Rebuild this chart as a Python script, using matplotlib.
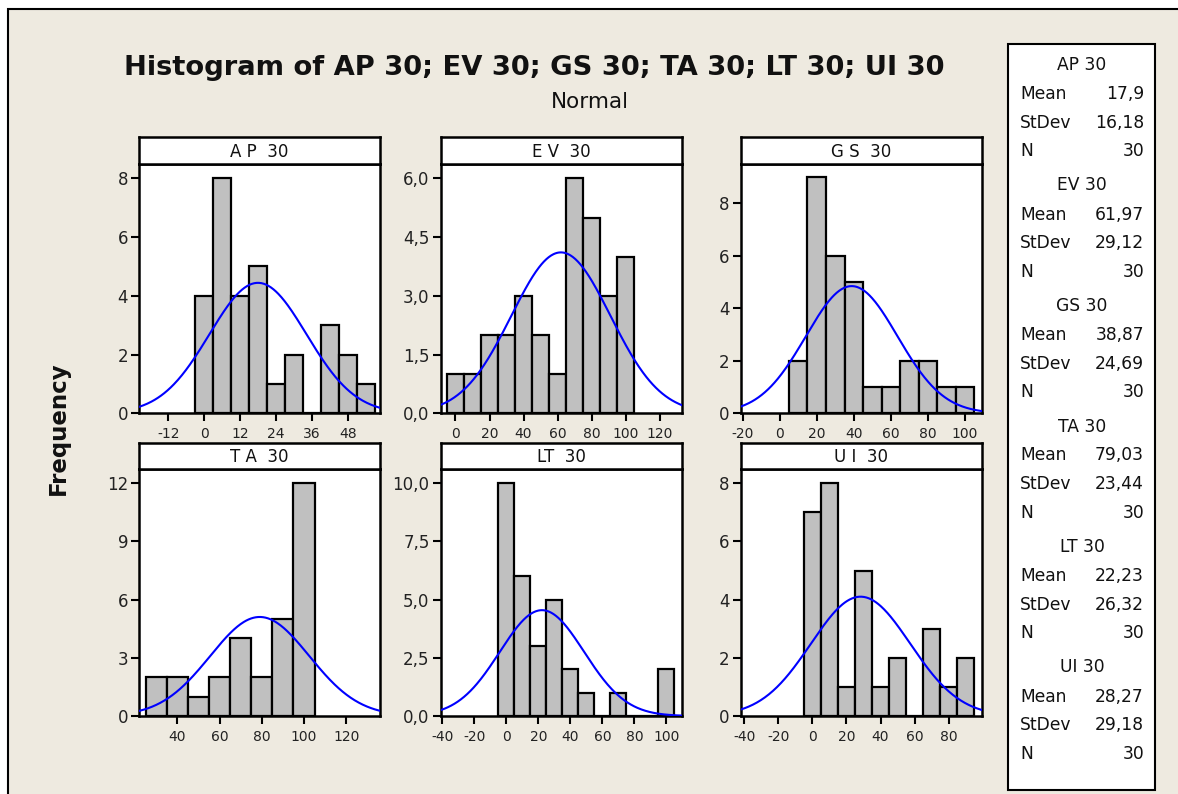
import numpy as np
import matplotlib
matplotlib.use("Agg")
import matplotlib.pyplot as plt
from matplotlib.patches import Rectangle

plt.rcParams['font.family'] = ['DejaVu Sans']
plt.rcParams['axes.unicode_minus'] = False

# ---------------- data ----------------
names = ["AP 30", "EV 30", "GS 30", "TA 30", "LT 30", "UI 30"]
strip_labels = ["A P  30", "E V  30", "G S  30", "T A  30", "LT  30", "U I  30"]
means = [17.9, 61.97, 38.87, 79.03, 22.23, 28.27]
stdevs = [16.18, 29.12, 24.69, 23.44, 26.32, 29.18]
n_obs = [30, 30, 30, 30, 30, 30]
mean_labels = ["17,9", "61,97", "38,87", "79,03", "22,23", "28,27"]
stdev_labels = ["16,18", "29,12", "24,69", "23,44", "26,32", "29,18"]

ap_centers = [0, 6, 12, 18, 24, 30, 36, 42, 48, 54]
ap_counts = [4, 8, 4, 5, 1, 2, 0, 3, 2, 1]
ev_centers = [0, 10, 20, 30, 40, 50, 60, 70, 80, 90, 100]
ev_counts = [1, 1, 2, 2, 3, 2, 1, 6, 5, 3, 4]
gs_centers = [10, 20, 30, 40, 50, 60, 70, 80, 90, 100]
gs_counts = [2, 9, 6, 5, 1, 1, 2, 2, 1, 1]
ta_centers = [30, 40, 50, 60, 70, 80, 90, 100]
ta_counts = [2, 2, 1, 2, 4, 2, 5, 12]
lt_centers = [0, 10, 20, 30, 40, 50, 60, 70, 80, 90, 100]
lt_counts = [10, 6, 3, 5, 2, 1, 0, 1, 0, 0, 2]
ui_centers = [0, 10, 20, 30, 40, 50, 60, 70, 80, 90]
ui_counts = [7, 8, 1, 5, 1, 2, 0, 3, 1, 2]

centers = [ap_centers, ev_centers, gs_centers, ta_centers, lt_centers, ui_centers]
counts = [ap_counts, ev_counts, gs_counts, ta_counts, lt_counts, ui_counts]
bin_widths = [6, 10, 10, 10, 10, 10]

xticks = [[-12, 0, 12, 24, 36, 48],
          [0, 20, 40, 60, 80, 100, 120],
          [-20, 0, 20, 40, 60, 80, 100],
          [40, 60, 80, 100, 120],
          [-40, -20, 0, 20, 40, 60, 80, 100],
          [-40, -20, 0, 20, 40, 60, 80]]
yticks = [[0, 2, 4, 6, 8],
          [0, 1.5, 3, 4.5, 6],
          [0, 2, 4, 6, 8],
          [0, 3, 6, 9, 12],
          [0, 2.5, 5, 7.5, 10],
          [0, 2, 4, 6, 8]]
ytick_labels = [["0", "2", "4", "6", "8"],
                ["0,0", "1,5", "3,0", "4,5", "6,0"],
                ["0", "2", "4", "6", "8"],
                ["0", "3", "6", "9", "12"],
                ["0,0", "2,5", "5,0", "7,5", "10,0"],
                ["0", "2", "4", "6", "8"]]
xlims = [(-21.7, 58.5), (-8.7, 133), (-21, 109), (22, 135.8), (-41, 109.5), (-42.2, 99.5)]
ylims = [8.47, 6.36, 9.49, 12.72, 10.6, 8.48]

# ---------------- layout (pixels) ----------------
W, H = 1178, 794
BG = "#EEEAE0"
fig = plt.figure(figsize=(W / 100, H / 100), dpi=100)
fig.patch.set_facecolor("white")

def fx(px):
    return px / W

def fy(py):
    return 1 - py / H

# beige background with black frame (cut at right/bottom)
fig.patches.append(Rectangle((fx(8), fy(H + 10)), fx(W + 20) - fx(8), fy(9) - fy(H + 10),
                             transform=fig.transFigure, facecolor=BG, edgecolor="black",
                             linewidth=1.5, zorder=-5))

col_x = [(139.3, 379.6), (440.7, 681.7), (740.7, 981.7)]
row_y = [((137.3, 164.3), (164.3, 413.3)), ((442.7, 469.3), (469.3, 716.0))]

for i in range(6):
    r, c = divmod(i, 3)
    x0, x1 = col_x[c]
    (s0, s1), (p0, p1) = row_y[r]
    ax = fig.add_axes([fx(x0), fy(p1), fx(x1) - fx(x0), fy(p0) - fy(p1)])
    ax.set_zorder(2)
    ax.set_facecolor("white")
    ax.bar(centers[i], counts[i], width=bin_widths[i], color="#C0C0C0",
           edgecolor="black", linewidth=1.6, zorder=2)
    xs = np.linspace(xlims[i][0], xlims[i][1], 300)
    scale = n_obs[i] * bin_widths[i]
    ys = scale * np.exp(-0.5 * ((xs - means[i]) / stdevs[i]) ** 2) / (stdevs[i] * np.sqrt(2 * np.pi))
    ax.plot(xs, ys, color="#0000FF", linewidth=1.5, zorder=3)
    ax.set_xlim(*xlims[i])
    ax.set_ylim(0, ylims[i])
    ax.set_xticks(xticks[i])
    ax.set_xticklabels([str(t) for t in xticks[i]], fontsize=10, color="#222222")
    ax.set_yticks(yticks[i])
    ax.set_yticklabels(ytick_labels[i], fontsize=12, color="#222222")
    ax.tick_params(axis="both", direction="out", length=6, width=1.5, color="black")
    ax.tick_params(axis="x", pad=4)
    ax.tick_params(axis="y", pad=2)
    for sp in ax.spines.values():
        sp.set_linewidth(1.8)
        sp.set_color("black")
    # strip
    sax = fig.add_axes([fx(x0), fy(s1), fx(x1) - fx(x0), fy(s0) - fy(s1)])
    sax.set_zorder(2)
    sax.set_facecolor("white")
    sax.set_xticks([])
    sax.set_yticks([])
    for sp in sax.spines.values():
        sp.set_linewidth(1.8)
        sp.set_color("black")
    sax.text(0.5, 0.45, strip_labels[i], transform=sax.transAxes, ha="center",
             va="center", fontsize=12, color="#111111")

# titles
fig.text(fx(534), fy(68), "Histogram of AP 30; EV 30; GS 30; TA 30; LT 30; UI 30",
         ha="center", va="center", fontsize=19.7, fontweight="bold", color="#111111")
fig.text(fx(590), fy(102), "Normal", ha="center", va="center", fontsize=15.5, color="#111111")
fig.text(fx(58), fy(428), "Frequency", ha="center", va="center", rotation=90,
         fontsize=16.5, fontweight="bold", color="#111111")

# legend box
fig.patches.append(Rectangle((fx(1008.3), fy(790)), fx(1155.3) - fx(1008.3), fy(44) - fy(790),
                             transform=fig.transFigure, facecolor="white", edgecolor="black",
                             linewidth=1.5, zorder=1))
for i in range(6):
    base = 65 + 120.5 * i
    fig.text(fx(1082), fy(base), names[i], ha="center", va="center", fontsize=12.3, color="#111111")
    rows = [("Mean", mean_labels[i]), ("StDev", stdev_labels[i]), ("N", str(n_obs[i]))]
    for k, (lab, val) in enumerate(rows):
        yy = base + 29 + 28.7 * k
        fig.text(fx(1020), fy(yy), lab, ha="left", va="center", fontsize=12.3, color="#111111")
        fig.text(fx(1144), fy(yy), val, ha="right", va="center", fontsize=12.3, color="#111111")

fig.savefig("out.png", dpi=100, facecolor=fig.get_facecolor())
